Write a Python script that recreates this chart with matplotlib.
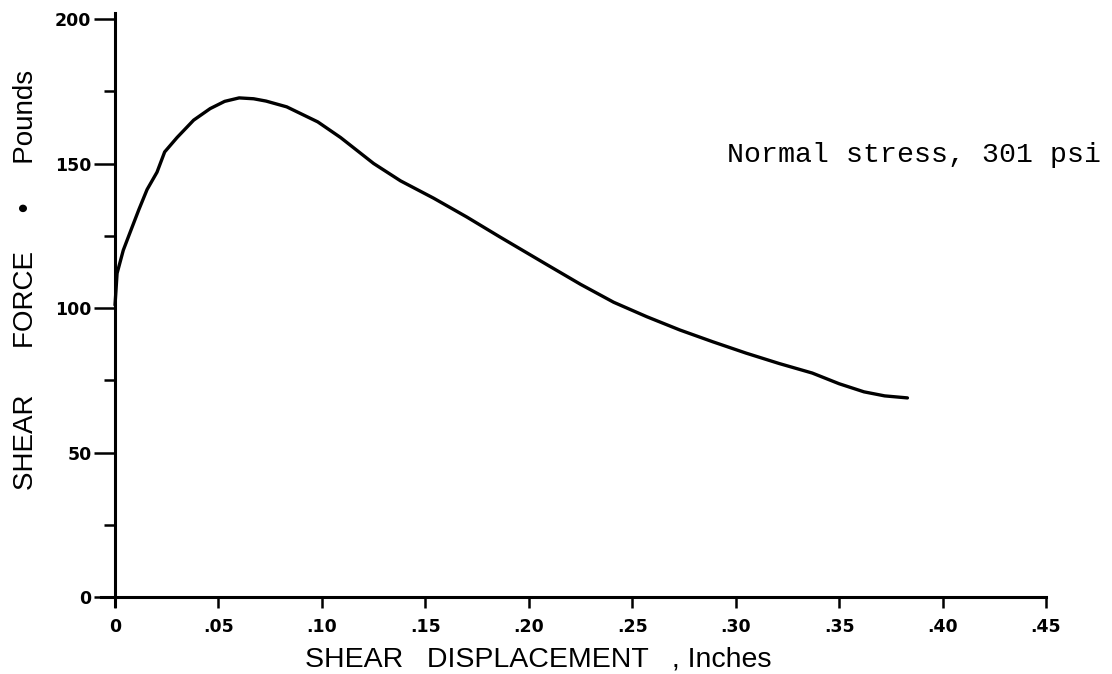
import numpy as np
import matplotlib
matplotlib.use("Agg")
import matplotlib.pyplot as plt

# shear displacement (in) and shear force (lb)
disp = [0.0, 0.001, 0.004, 0.0072, 0.0115, 0.0155, 0.0203, 0.024, 0.030, 0.038,
        0.046, 0.053, 0.060, 0.067, 0.073, 0.083, 0.098, 0.109, 0.125, 0.138,
        0.154, 0.170, 0.186, 0.209, 0.225, 0.241, 0.257, 0.273, 0.289, 0.305,
        0.321, 0.337, 0.350, 0.362, 0.372, 0.383]
force = [101, 112, 120, 126, 134, 141, 147, 154, 159, 165,
         169, 171.5, 172.7, 172.4, 171.6, 169.6, 164.4, 159, 150, 144,
         138, 131.5, 124.6, 114.9, 108.2, 102, 97, 92.4, 88.3, 84.4,
         80.8, 77.5, 73.8, 71, 69.6, 68.9]

xticks = [0, .05, .10, .15, .20, .25, .30, .35, .40, .45]
xticklabels = ["0", ".05", ".10", ".15", ".20", ".25", ".30", ".35", ".40", ".45"]
yticks = [0, 50, 100, 150, 200]
yminor = [25, 75, 125, 175]

fig = plt.figure(figsize=(11.12, 6.74), dpi=100)
ax = fig.add_axes([0.0904, 0.1013, 0.8503, 0.8791])

ax.plot(disp, force, color="black", lw=2.4, solid_capstyle="round",
        solid_joinstyle="round")

ax.set_xlim(-0.007, 0.45)
ax.set_ylim(-3, 202)
for s in ["top", "right"]:
    ax.spines[s].set_visible(False)
ax.spines["left"].set_position(("data", 0))
ax.spines["bottom"].set_position(("data", 0))
ax.spines["left"].set_linewidth(2.2)
ax.spines["bottom"].set_linewidth(2.2)

ax.set_xticks(xticks)
ax.set_xticklabels(xticklabels)
ax.set_yticks(yticks)
ax.set_yticks(yminor, minor=True)
ax.tick_params(axis="x", direction="out", length=8, width=1.8, pad=7)
ax.tick_params(axis="y", which="major", direction="out", length=15, width=1.8, pad=2)
ax.tick_params(axis="y", which="minor", direction="out", length=8, width=1.8)
for lab in ax.get_xticklabels() + ax.get_yticklabels():
    lab.set_fontfamily("DejaVu Sans")
    lab.set_fontweight("bold")
    lab.set_fontsize(12.5)

ax.text(0.296, 153, "Normal stress, 301 psi", family="Liberation Mono",
        fontsize=20.3, va="center", ha="left")

fig.text(0.4843, 0.0104, "SHEAR   DISPLACEMENT   , Inches", family="Liberation Sans",
         fontsize=20.5, ha="center", va="baseline")
fig.text(0.0297, 0.5846, "SHEAR      FORCE     \u2022     Pounds", family="Liberation Sans",
         fontsize=20, ha="center", va="baseline", rotation=90, rotation_mode="anchor")

fig.savefig("out.png", dpi=100)
